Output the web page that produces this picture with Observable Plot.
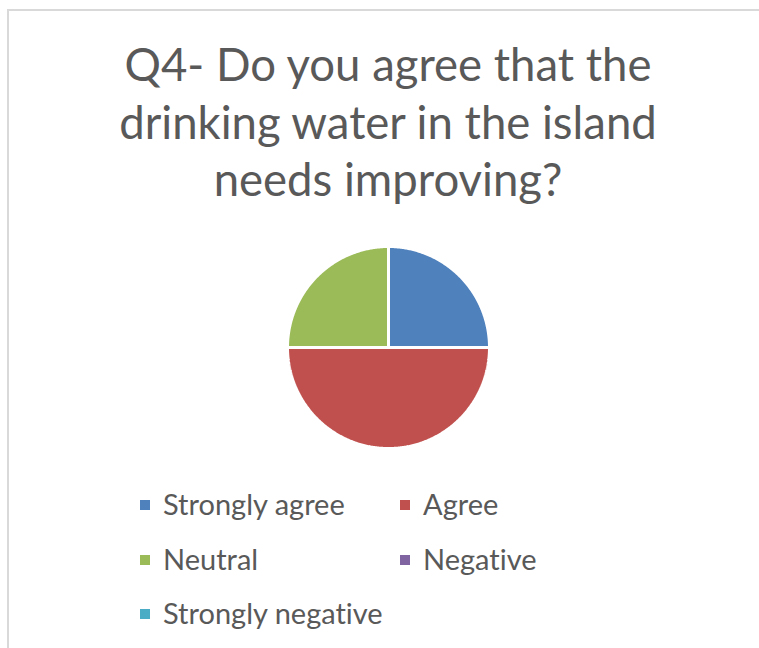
<!DOCTYPE html>
<html>
<head>
<meta charset="utf-8">
<script src="https://cdn.jsdelivr.net/npm/d3@7"></script>
<script src="https://cdn.jsdelivr.net/npm/@observablehq/plot@0.6"></script>
<style>
  html, body { margin: 0; padding: 0; background: #fff; }
  body { width: 759px; height: 648px; position: relative; overflow: hidden; font-family: Lato, "Open Sans", sans-serif; font-variant-ligatures: none; }
  #frame { position: absolute; left: 7px; top: 9px; width: 800px; height: 700px; border-left: 2px solid #d9d9d9; border-top: 2px solid #d9d9d9; }
  #title { position: absolute; left: 8px; width: 760px; top: 35px; text-align: center; color: #595959; font-size: 45.5px; line-height: 57.5px; }
  #pie { position: absolute; left: 268px; top: 227px; }
  .row { position: absolute; height: 54px; display: flex; align-items: center; font-size: 29px; color: #595959; }
  .sw { width: 10px; height: 10px; margin-right: 13px; margin-top: 3px; }
</style>
</head>
<body>
<div id="frame"></div>
<div id="title"></div>
<div id="pie"></div>
<div id="legend"></div>
<script>
const titleLines = ["Q4- Do you agree that the", "drinking water in the island", "needs improving?"];
const categories = ["Strongly agree", "Agree", "Neutral", "Negative", "Strongly negative"];
const values = [1, 2, 1, 0, 0];
const colors = ["#4f81bd", "#c0504d", "#9bbb59", "#8064a2", "#4bacc6"];

document.getElementById("title").innerHTML = titleLines.join("<br>");

// pie geometry from values
const arcs = d3.pie().sort(null).value(d => d.v)(categories.map((c, i) => ({c, v: values[i]})));
const R = 1.01;
const pts = [];
for (const a of arcs) {
  if (a.data.v <= 0) continue;
  const n = Math.max(2, Math.ceil((a.endAngle - a.startAngle) / 0.01));
  pts.push({cat: a.data.c, x: 0, y: 0});
  for (let k = 0; k <= n; k++) {
    const t = a.startAngle + (a.endAngle - a.startAngle) * k / n;
    pts.push({cat: a.data.c, x: R * Math.sin(t), y: R * Math.cos(t)});
  }
  pts.push({cat: a.data.c, x: 0, y: 0});
}

const chart = Plot.plot({
  width: 240, height: 240, margin: 0,
  x: {domain: [-1.2, 1.2], axis: null},
  y: {domain: [-1.2, 1.2], axis: null},
  color: {domain: categories, range: colors},
  marks: [
    Plot.line(pts, {x: "x", y: "y", z: "cat", fill: "cat", stroke: "white", strokeWidth: 3, strokeLinejoin: "miter"})
  ]
});
document.getElementById("pie").appendChild(chart);

// legend
const legend = document.getElementById("legend");
const colX = [140, 400];
const rowTop = [476, 531, 585];
categories.forEach((c, i) => {
  const row = document.createElement("div");
  row.className = "row";
  row.style.left = colX[i % 2] + "px";
  row.style.top = rowTop[Math.floor(i / 2)] + "px";
  row.innerHTML = `<div class="sw" style="background:${colors[i]}"></div><span>${c}</span>`;
  legend.appendChild(row);
});
</script>
</body>
</html>
